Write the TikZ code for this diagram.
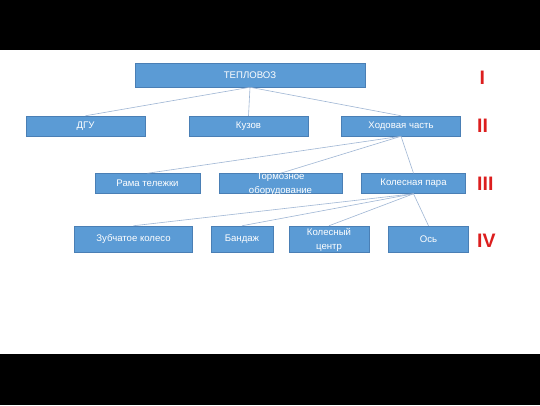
\documentclass[tikz,border=0pt]{standalone}
\usepackage{fontspec}
\setmainfont{Liberation Sans}
\definecolor{boxfill}{HTML}{5B9BD5}
\definecolor{boxline}{HTML}{4A7FB5}
\definecolor{conn}{HTML}{9FB6D4}
\definecolor{lvl}{HTML}{DC1E1E}
\begin{document}
\begin{tikzpicture}[x=1pt,y=-1pt,
  blk/.style={rectangle,fill=boxfill,draw=boxline,line width=0.5pt,text=white,inner sep=0pt,font=\fontsize{9.6}{11}\selectfont},
  txt/.style={text=white,align=center,inner sep=0pt,font=\fontsize{9.6}{13.8}\selectfont},
  cn/.style={draw=conn,line width=0.6pt},
  lv/.style={text=lvl,anchor=west,inner sep=0pt,font=\fontsize{19.5}{19.5}\selectfont\bfseries}]
\useasboundingbox (0,0) rectangle (540,405);
\fill[white] (0,0) rectangle (540,405);
\fill[black] (0,0) rectangle (540,50);
\fill[black] (0,354) rectangle (540,405);
% level I
\node[blk,minimum width=230pt,minimum height=24pt] (tep) at (250,75) {ТЕПЛОВОЗ};
% level II
\node[blk,minimum width=119pt,minimum height=20pt] (dgu) at (85.5,126) {ДГУ};
\node[blk,minimum width=119pt,minimum height=20pt] (kuz) at (248.5,126) {Кузов};
\node[blk,minimum width=119pt,minimum height=20pt] (hod) at (401,126) {Ходовая часть};
% level III
\node[blk,minimum width=105pt,minimum height=20pt] (ram) at (147.5,183.5) {Рама тележки};
\node[blk,minimum width=123pt,minimum height=20pt] (tor) at (280.5,183.5) {};
\node[txt] (tort) at (280.5,184) {Тормозное\\оборудование};
\node[blk,minimum width=104pt,minimum height=20pt] (kol) at (413.5,183.5) {Колесная пара};
% level IV
\node[blk,minimum width=118pt,minimum height=26pt] (zub) at (133.5,239) {Зубчатое колесо};
\node[blk,minimum width=62pt,minimum height=26pt] (ban) at (242,239) {Бандаж};
\node[blk,minimum width=80pt,minimum height=26pt] (cen) at (329,239) {};
\node[txt] (cent) at (329,240) {Колесный\\центр};
\node[blk,minimum width=80pt,minimum height=26pt] (os) at (428.5,239) {Ось};
% connectors
\draw[cn] (tep.south) -- (dgu.north);
\draw[cn] (tep.south) -- (kuz.north);
\draw[cn] (tep.south) -- (hod.north);
\draw[cn] (hod.south) -- (ram.north);
\draw[cn] (hod.south) -- (tor.north);
\draw[cn] (hod.south) -- (kol.north);
\draw[cn] (kol.south) -- (zub.north);
\draw[cn] (kol.south) -- (ban.north);
\draw[cn] (kol.south) -- (cen.north);
\draw[cn] (kol.south) -- (os.north);
% level labels
\node[lv] (l1) at (479.5,78) {I};
\node[lv] (l2) at (477,126) {II};
\node[lv] (l3) at (477,183.5) {III};
\node[lv] (l4) at (477,240.5) {IV};
\end{tikzpicture}
\end{document}
